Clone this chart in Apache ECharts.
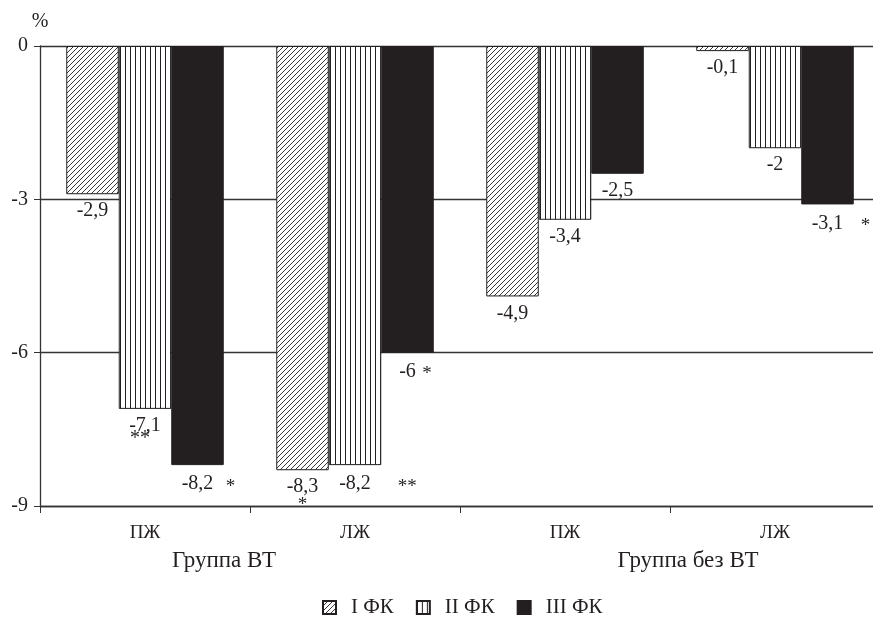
<!DOCTYPE html>
<html>
<head>
<meta charset="utf-8">
<script src="https://cdn.jsdelivr.net/npm/echarts@6/dist/echarts.min.js"></script>
<style>
html,body{margin:0;padding:0;background:#fff;overflow:hidden;}
#chart{width:880px;height:624px;}
</style>
</head>
<body>
<div id="chart"></div>
<script>
// ---- data ----
const categories = ['ПЖ', 'ЛЖ', 'ПЖ', 'ЛЖ'];
const groupNames = ['Группа ВТ', 'Группа без ВТ'];
const seriesNames = ['I ФК', 'II ФК', 'III ФК'];
const fk1 = [-2.9, -8.3, -4.9, -0.1];
const fk2 = [-7.1, -8.2, -3.4, -2];
const fk3 = [-8.2, -6, -2.5, -3.1];
const sig1 = ['', '*', '', ''];
const sig2 = ['**', '**', '', ''];
const sig3 = ['*', '*', '', '*'];
const yTicks = [0, -3, -6, -9];

// ---- styling helpers ----
const FONT = "'Liberation Serif', 'Times New Roman', serif";
const INK = '#231f20';
const NUM = 20;

function makeDiag() {
  const n = 5;
  const c = document.createElement('canvas');
  c.width = n; c.height = n;
  const g = c.getContext('2d');
  g.fillStyle = '#fff'; g.fillRect(0, 0, n, n);
  g.strokeStyle = '#222'; g.lineWidth = 0.9;
  g.beginPath();
  g.moveTo(0, n); g.lineTo(n, 0);
  g.moveTo(-1, 1); g.lineTo(1, -1);
  g.moveTo(n - 1, n + 1); g.lineTo(n + 1, n - 1);
  g.stroke();
  return c;
}
function makeVert() {
  const c = document.createElement('canvas');
  c.width = 5; c.height = 4;
  const g = c.getContext('2d');
  g.fillStyle = '#fff'; g.fillRect(0, 0, 5, 4);
  g.fillStyle = '#222'; g.fillRect(0, 0, 1, 4);
  return c;
}
const fills = [
  { image: makeDiag(), repeat: 'repeat' },
  { image: makeVert(), repeat: 'repeat' },
  '#231f20'
];

function fmt(v) { return String(v).replace('.', ','); }

// placement of significance marks (series index, category index) -> layout
const markLayout = {
  '0-1': { mode: 'below' },
  '1-0': { mode: 'under' },
  '1-1': { mode: 'right', w: 46 },
  '2-0': { mode: 'right', w: 22 },
  '2-1': { mode: 'right', w: 16 },
  '2-3': { mode: 'right', w: 27 }
};

function buildData(vals, sigs, si) {
  return vals.map((v, i) => {
    const s = sigs[i];
    const txt = fmt(v);
    if (!s) return { value: v, label: { formatter: '{v|' + txt + '}' } };
    const lay = markLayout[si + '-' + i];
    let formatter, rich = {};
    if (lay.mode === 'right') {
      formatter = '{pad|}{v|' + txt + '}{s|' + s + '}';
      rich = {
        pad: { width: lay.w },
        s: { width: lay.w, align: 'right', fontSize: 19, fontFamily: FONT, color: INK, padding: [5, 0, 0, 0] }
      };
    } else if (lay.mode === 'below') {
      formatter = '{v|' + txt + '}\n{b|' + s + '}';
      rich = { b: { fontSize: 19, fontFamily: FONT, color: INK, lineHeight: 16 } };
    } else {
      formatter = '{v|' + txt + '}\n{u|' + s + '}';
      rich = { u: { fontSize: 20, fontFamily: FONT, color: INK, lineHeight: 6, padding: [0, 10, 0, 0] } };
    }
    return { value: v, label: { formatter: formatter, rich: rich } };
  });
}

const allVals = [fk1, fk2, fk3];
const allSigs = [sig1, sig2, sig3];

const series = seriesNames.map((name, si) => ({
  name: name,
  type: 'bar',
  barGap: '0%',
  barCategoryGap: '25%',
  data: buildData(allVals[si], allSigs[si], si),
  itemStyle: { color: fills[si], borderColor: INK, borderWidth: 1 },
  label: {
    show: true,
    position: 'bottom',
    distance: 7,
    color: INK,
    fontFamily: FONT,
    fontSize: NUM,
    rich: {
      v: { fontSize: NUM, fontFamily: FONT, color: INK, lineHeight: 20 }
    }
  },
  emphasis: { disabled: true },
  animation: false
}));

const chart = echarts.init(document.getElementById('chart'), null, { renderer: 'canvas' });
chart.setOption({
  animation: false,
  textStyle: { fontFamily: FONT, color: INK },
  grid: { left: 40, right: 0, top: 46, bottom: 118, containLabel: false },
  legend: {
    data: seriesNames.map(n => ({ name: n, icon: 'rect' })),
    left: 317,
    top: 592,
    itemWidth: 13,
    itemHeight: 13,
    itemGap: 22,
    selectedMode: false,
    textStyle: { fontFamily: FONT, fontSize: 21, color: INK, padding: [0, 0, 0, 10] }
  },
  xAxis: {
    type: 'category',
    data: categories,
    position: 'bottom',
    axisLine: { onZero: false, lineStyle: { color: '#333', width: 1.3 } },
    axisTick: { show: true, length: 7, lineStyle: { color: '#333' } },
    axisLabel: { fontFamily: FONT, fontSize: 19, color: INK, margin: 18 },
    splitLine: { show: false }
  },
  yAxis: {
    type: 'value',
    min: yTicks[yTicks.length - 1],
    max: yTicks[0],
    interval: 3,
    name: '%',
    nameLocation: 'end',
    nameGap: 14,
    nameTextStyle: { fontFamily: FONT, fontSize: 20, color: INK, align: 'center' },
    axisLine: { show: true, lineStyle: { color: '#333', width: 1.3 } },
    axisTick: { show: true, length: 6, lineStyle: { color: '#333' } },
    axisLabel: { fontFamily: FONT, fontSize: NUM, color: INK, margin: 12 },
    splitLine: { show: true, lineStyle: { color: '#333', width: 1.3 } }
  },
  graphic: [
    { type: 'text', style: { text: groupNames[0], x: 224, y: 561, align: 'center', verticalAlign: 'middle', font: '23px ' + FONT, fill: INK } },
    { type: 'text', style: { text: groupNames[1], x: 688, y: 561, align: 'center', verticalAlign: 'middle', font: '23px ' + FONT, fill: INK } }
  ],
  series: series
});
</script>
</body>
</html>
